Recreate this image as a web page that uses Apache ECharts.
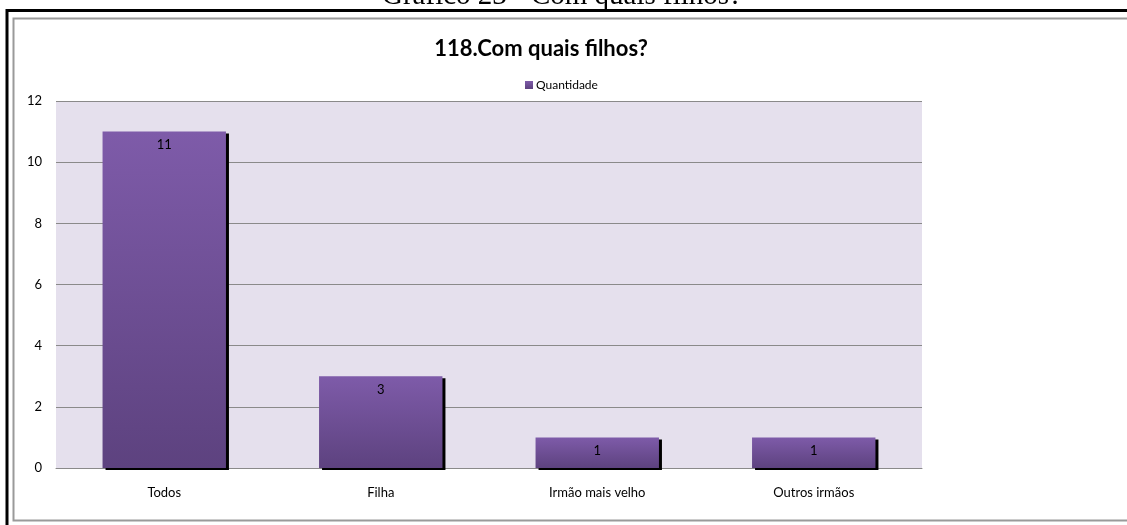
<!DOCTYPE html>
<html>
<head>
<meta charset="utf-8">
<script src="https://cdn.jsdelivr.net/npm/echarts@6/dist/echarts.min.js"></script>
<style>
  html, body { margin: 0; padding: 0; background: #ffffff; }
  #chart { width: 1127px; height: 525px; }
</style>
</head>
<body>
<div id="chart"></div>
<script>
// Categories and counts for "118.Com quais filhos?"
const categories = ['Todos', 'Filha', 'Irmão mais velho', 'Outros irmãos'];
const quantidade = [11, 3, 1, 1];
const yTicks = { min: 0, max: 12, interval: 2 };

const font = 'Lato, "Liberation Sans", sans-serif';
const chart = echarts.init(document.getElementById('chart'), null, { renderer: 'canvas' });

chart.setOption({
  backgroundColor: '#ffffff',
  animation: false,
  title: {
    text: '118.Com quais filhos?',
    left: 536,
    textAlign: 'center',
    top: 33,
    textStyle: { fontFamily: font, fontWeight: 'bold', fontSize: 22, color: '#000000' }
  },
  legend: {
    data: ['Quantidade'],
    left: 520,
    top: 74,
    itemWidth: 8,
    itemHeight: 8,
    itemGap: 4,
    icon: 'rect',
    textStyle: { fontFamily: font, fontSize: 12, color: '#000000', padding: [0, 0, 0, -2] }
  },
  grid: {
    left: 56, right: 205, top: 101, bottom: 57,
    show: true,
    backgroundColor: '#e5e0ed',
    borderWidth: 0
  },
  xAxis: {
    type: 'category',
    data: categories,
    axisLine: { show: true, lineStyle: { color: '#8a8a8a', width: 1 } },
    axisTick: { show: false },
    axisLabel: { fontFamily: font, fontSize: 13, color: '#000000', margin: 18 }
  },
  yAxis: {
    type: 'value',
    min: yTicks.min,
    max: yTicks.max,
    interval: yTicks.interval,
    axisLine: { show: false },
    axisTick: { show: false },
    splitLine: { show: true, lineStyle: { color: '#8a8a8a', width: 1 } },
    axisLabel: { fontFamily: font, fontSize: 13, color: '#000000', margin: 14 }
  },
  series: [{
    name: 'Quantidade',
    type: 'bar',
    data: quantidade,
    barWidth: '57%',
    itemStyle: {
      color: new echarts.graphic.LinearGradient(0, 0, 0, 1, [
        { offset: 0, color: '#7e5ba9' },
        { offset: 1, color: '#5d427f' }
      ]),
      shadowColor: '#000000',
      shadowBlur: 0,
      shadowOffsetX: 3,
      shadowOffsetY: 2
    },
    label: {
      show: true,
      position: 'insideTop',
      distance: 7,
      fontFamily: font,
      fontSize: 13,
      color: '#000000'
    }
  }],
  graphic: [
    {
      type: 'text',
      left: 382,
      top: -18,
      style: {
        text: 'Gráfico 23 - Com quais filhos?',
        font: '29px "Liberation Serif", "Times New Roman", serif',
        fill: '#000000'
      }
    },
    {
      type: 'rect',
      shape: { x: 7, y: 10.5, width: 1140, height: 540 },
      style: { fill: 'none', stroke: '#000000', lineWidth: 3 }
    },
    {
      type: 'rect',
      shape: { x: 13.5, y: 18.5, width: 1130, height: 502 },
      style: { fill: 'none', stroke: '#9a9a9a', lineWidth: 2 }
    }
  ]
});
</script>
</body>
</html>
